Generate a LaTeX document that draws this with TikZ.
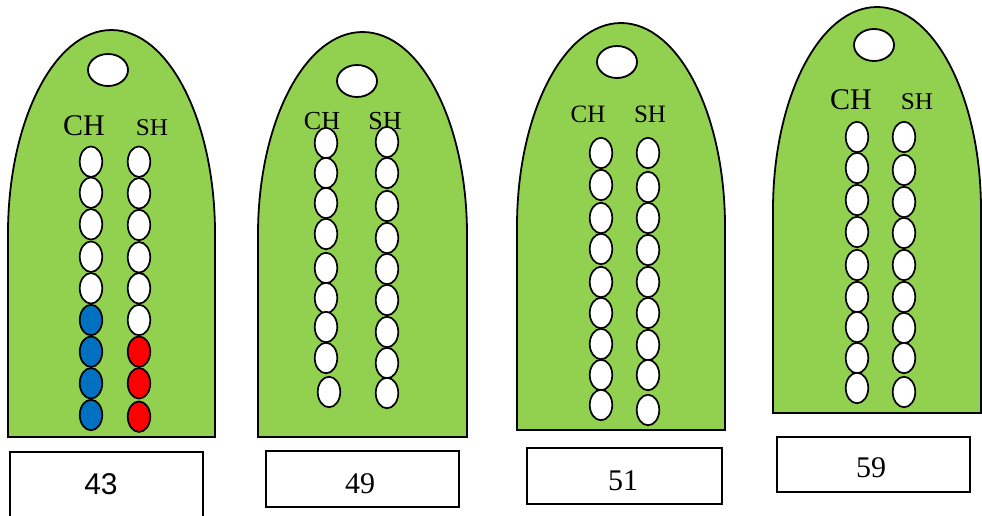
\documentclass[tikz,border=0pt]{standalone}
\usepackage{fontspec}
\setmainfont{Liberation Serif}
\newfontfamily\numsans{Liberation Sans}
\usetikzlibrary{shapes.geometric}
\definecolor{tagfill}{HTML}{92D050}
\definecolor{beadblue}{HTML}{0070C0}
\definecolor{beadred}{HTML}{FF0000}
\begin{document}
\begin{tikzpicture}[x=1pt,y=-1pt,
  tagbody/.style={fill=tagfill,draw=black,line width=1.8pt},
  hole/.style={ellipse,draw=black,fill=white,line width=1.8pt,minimum width=40pt,minimum height=32pt,inner sep=0pt},
  bead/.style={ellipse,draw=black,line width=1.7pt,minimum width=22.5pt,minimum height=30.5pt,inner sep=0pt},
  numbox/.style={draw=black,line width=1.5pt,fill=white,inner sep=0pt},
  lbl/.style={anchor=base,inner sep=0pt},
  numlbl/.style={anchor=base,inner sep=0pt,font=\fontsize{30}{30}\selectfont}]
\useasboundingbox (0,0) rectangle (982,515);

% ---- tag 1 ----
\draw[tagbody] (8,437) -- (8,233.5) arc[start angle=180,end angle=360,x radius=103.5,y radius=203.5] -- (215,437) -- cycle;
\node[hole] (h1) at (108,70) {};
\node[lbl,font=\fontsize{30}{30}\selectfont] (ch1) at (84,135) {CH};
\node[lbl,font=\fontsize{24}{24}\selectfont,xscale=1.05] (sh1) at (152,135) {SH};
\foreach \y/\c [count=\i] in {161.7/white,192.7/white,224.3/white,256.7/white,288.3/white,320/beadblue,351.7/beadblue,383.3/beadblue,415/beadblue}
  \node[bead,fill=\c] (t1a\i) at (91,\y) {};
\foreach \y/\c [count=\i] in {161.7/white,193.3/white,225/white,257.3/white,288.3/white,320/white,351.7/beadred,383.3/beadred,416.7/beadred}
  \node[bead,fill=\c] (t1b\i) at (139,\y) {};

% ---- tag 2 ----
\draw[tagbody] (258,437) -- (258,234.5) arc[start angle=180,end angle=360,x radius=104.5,y radius=202.5] -- (467,437) -- cycle;
\node[hole] (h2) at (357,81) {};
\node[lbl,font=\fontsize{26}{26}\selectfont] (ch2) at (322,129) {CH};
\node[lbl,font=\fontsize{26}{26}\selectfont] (sh2) at (385,129) {SH};
\foreach \x/\y [count=\i] in {326/143,326/173,326/203,326/234,326/268,326/298,326/327,326/358,329/392}
  \node[bead,fill=white] (t2a\i) at (\x,\y) {};
\foreach \y [count=\i] in {142,173,206,238,269,300,332,363,393}
  \node[bead,fill=white] (t2b\i) at (387,\y) {};

% ---- tag 3 ----
\draw[tagbody] (517,430) -- (517,226.5) arc[start angle=180,end angle=360,x radius=104,y radius=203.5] -- (725,430) -- cycle;
\node[hole] (h3) at (617,62) {};
\node[lbl,font=\fontsize{25}{25}\selectfont] (ch3) at (588,122) {CH};
\node[lbl,font=\fontsize{25}{25}\selectfont] (sh3) at (650,122) {SH};
\foreach \y [count=\i] in {153,185,218,249,282,313,344,375,405}
  \node[bead,fill=white] (t3a\i) at (601,\y) {};
\foreach \y [count=\i] in {153,187,218,250,282,313,345,375,410}
  \node[bead,fill=white] (t3b\i) at (648,\y) {};

% ---- tag 4 ----
\draw[tagbody] (773,413) -- (773,210) arc[start angle=180,end angle=360,x radius=104,y radius=203] -- (981,413) -- cycle;
\node[hole] (h4) at (874,45) {};
\node[lbl,font=\fontsize{30}{30}\selectfont] (ch4) at (851,109) {CH};
\node[lbl,font=\fontsize{24}{24}\selectfont,xscale=1.05] (sh4) at (917,109) {SH};
\foreach \y [count=\i] in {137,168,200,232,265,297,327,358,388}
  \node[bead,fill=white] (t4a\i) at (857,\y) {};
\foreach \y [count=\i] in {137,170,202,233,265,297,328,358,392}
  \node[bead,fill=white] (t4b\i) at (904,\y) {};

% ---- number boxes ----
\node[numbox,minimum width=193pt,minimum height=70pt] (b1) at (106.5,487) {};
\node[numlbl,font=\numsans\fontsize{30}{30}\selectfont] (n1) at (101,494) {43};
\node[numbox,minimum width=193pt,minimum height=56pt] (b2) at (362.5,479) {};
\node[numlbl] (n2) at (360,493) {49};
\node[numbox,minimum width=195pt,minimum height=56pt] (b3) at (624.5,476) {};
\node[numlbl] (n3) at (623,490) {51};
\node[numbox,minimum width=193pt,minimum height=55pt] (b4) at (873.5,464.5) {};
\node[numlbl] (n4) at (871,477) {59};
\end{tikzpicture}
\end{document}
